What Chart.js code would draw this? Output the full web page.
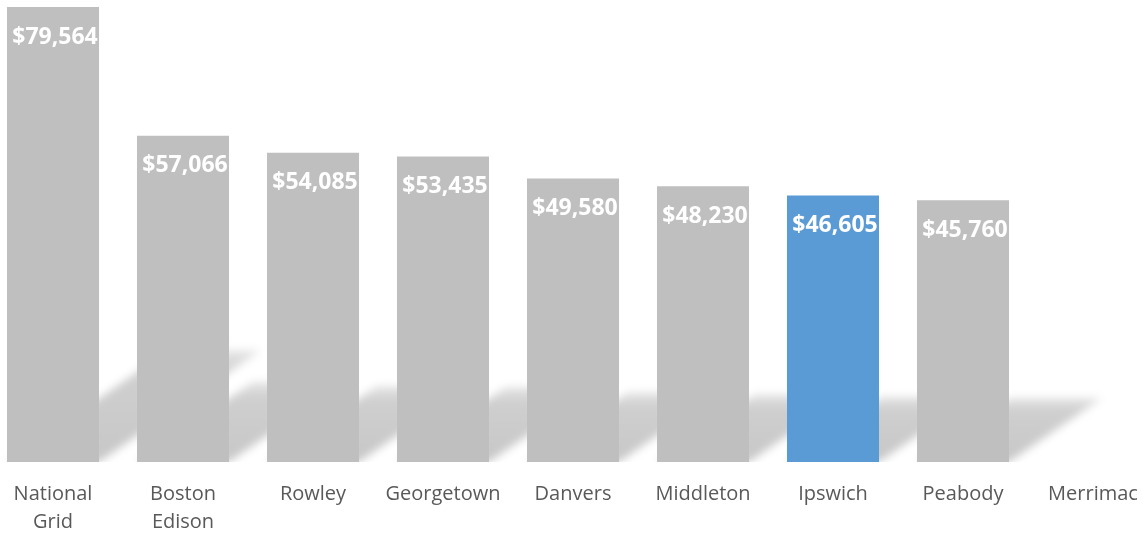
<!DOCTYPE html>
<html>
<head>
<meta charset="utf-8">
<script src="https://cdn.jsdelivr.net/npm/chart.js@4.4.1/dist/chart.umd.min.js"></script>
<style>
    html, body { margin: 0; padding: 0; background: #fff; overflow: hidden; }
    #wrap { position: absolute; left: -12px; top: 0; width: 1170px; height: 535px; }
</style>
</head>
<body>
<div id="wrap"><canvas id="myChart"></canvas></div>
<script>
//Dane wykresu
const categories = [['National', 'Grid'], ['Boston', 'Edison'], 'Rowley', 'Georgetown', 'Danvers', 'Middleton', 'Ipswich', 'Peabody', 'Merrimac'];
const salaries = [79564, 57066, 54085, 53435, 49580, 48230, 46605, 45760, null];
const highlighted = 'Ipswich';
const yMax = 80788;

const grayColor = '#BFBFBF';
const blueColor = '#5B9BD5';

function barColors() {
    return categories.map(c => c === highlighted ? blueColor : grayColor);
}

// cien perspektywiczny za slupkami
const shadowPlugin = {
    id: 'barShadow',
    beforeDatasetsDraw(chart) {
        const ctx = chart.ctx;
        const area = chart.chartArea;
        const meta = chart.getDatasetMeta(0);
        ctx.save();
        ctx.beginPath();
        ctx.rect(area.left - 20, area.top, area.right - area.left + 40, area.bottom - area.top);
        ctx.clip();
        ctx.filter = 'blur(4px)';
        meta.data.forEach((bar, i) => {
            if (salaries[i] == null) return;
            const p = bar.getProps(['x', 'y', 'base', 'width'], true);
            const h = p.base - p.y;
            const hs = h * 0.245;
            const dx = h * 0.355;
            const x0 = p.x - p.width / 2;
            const x1 = p.x + p.width / 2;
            const grad = ctx.createLinearGradient(0, p.base, 0, p.base - hs);
            grad.addColorStop(0, 'rgba(0,0,0,0.22)');
            grad.addColorStop(0.8, 'rgba(0,0,0,0.19)');
            grad.addColorStop(1, 'rgba(0,0,0,0.10)');
            ctx.fillStyle = grad;
            ctx.beginPath();
            ctx.moveTo(x0, p.base);
            ctx.lineTo(x1, p.base);
            ctx.lineTo(x1 + dx, p.base - hs);
            ctx.lineTo(x0 + dx, p.base - hs);
            ctx.closePath();
            ctx.fill();
        });
        ctx.restore();
    }
};

// etykiety wartosci wewnatrz slupkow
const valueLabelPlugin = {
    id: 'valueLabels',
    afterDatasetsDraw(chart) {
        const ctx = chart.ctx;
        const meta = chart.getDatasetMeta(0);
        ctx.save();
        ctx.font = 'bold 23px "Open Sans", sans-serif';
        ctx.fillStyle = '#FFFFFF';
        ctx.textAlign = 'center';
        ctx.textBaseline = 'middle';
        meta.data.forEach((bar, i) => {
            if (salaries[i] == null) return;
            const p = bar.getProps(['x', 'y'], true);
            ctx.fillText('$' + salaries[i].toLocaleString('en-US'), p.x + 2, p.y + 30);
        });
        ctx.restore();
    }
};

const ctx = document.getElementById('myChart').getContext('2d');
const myChart = new Chart(ctx, {
    type: 'bar',
    data: {
        labels: categories,
        datasets: [{
            label: 'Salary',
            data: salaries,
            backgroundColor: barColors(),
            borderWidth: 0,
            barPercentage: 0.708,
            categoryPercentage: 1.0
        }]
    },
    options: {
        responsive: true,
        maintainAspectRatio: false,
        animation: false,
        layout: { padding: 0 },
        plugins: {
            legend: { display: false },
            tooltip: { enabled: false },
            title: { display: false }
        },
        scales: {
            x: {
                grid: { display: false, drawTicks: false },
                border: { display: false },
                ticks: {
                    color: '#595959',
                    font: { family: '"Open Sans", sans-serif', size: 20, lineHeight: 1.4 },
                    padding: 18,
                    maxRotation: 0,
                    autoSkip: false
                },
                afterFit(scale) {
                    scale.height = 73;
                }
            },
            y: {
                display: false,
                min: 0,
                max: yMax
            }
        }
    },
    plugins: [shadowPlugin, valueLabelPlugin]
});
</script>
</body>
</html>
